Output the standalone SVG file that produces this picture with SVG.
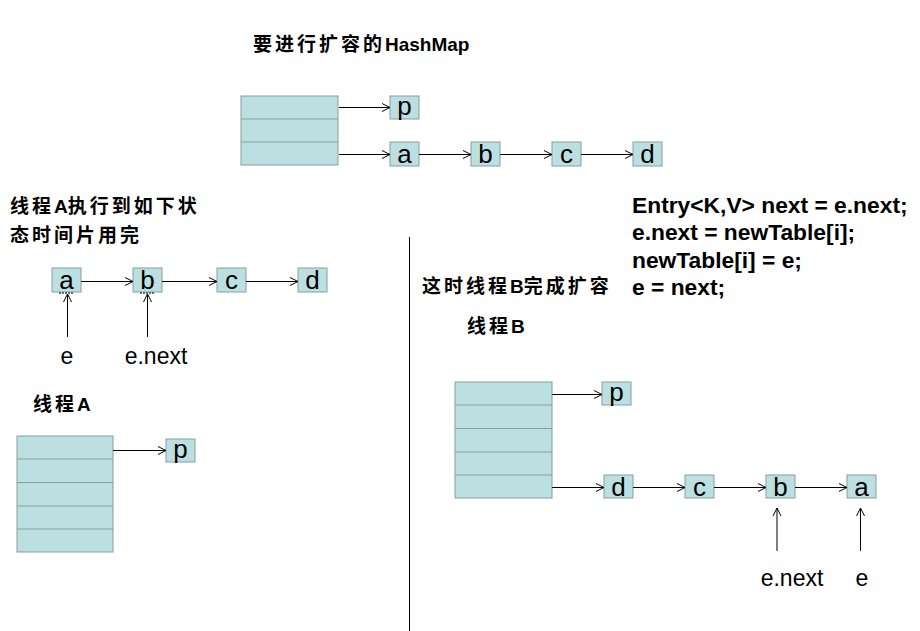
<svg xmlns="http://www.w3.org/2000/svg" width="920" height="631" viewBox="0 0 920 631">
<defs>
<marker id="arr" markerUnits="userSpaceOnUse" markerWidth="12" markerHeight="12" refX="9" refY="5" orient="auto">
<path d="M1,1 L9,5 L1,9" fill="none" stroke="#000" stroke-width="1"/>
</marker>
<style>
.box{fill:#BCE0E2;stroke:#839F9F;stroke-width:1}
.row{stroke:#839F9F;stroke-width:1}
.nt{font-family:"Liberation Sans",Arial,sans-serif;font-size:26px;fill:#000;text-anchor:middle}
.lbl{font-family:"Liberation Sans",Arial,sans-serif;font-size:23px;fill:#000;text-anchor:middle}
.cn{font-family:"Noto Sans CJK SC",sans-serif;font-size:19px;font-weight:600;letter-spacing:3px;fill:#000}
.cn .lat{font-family:"Liberation Sans",Arial,sans-serif;font-weight:bold;letter-spacing:0}
.code{font-family:"Liberation Sans",Arial,sans-serif;font-size:22.8px;font-weight:bold;fill:#000}
.dash{stroke:#444;stroke-width:1.5;stroke-dasharray:2,1}
.con line{stroke:#000;stroke-width:1;marker-end:url(#arr)}
</style>
</defs>
<rect width="920" height="631" fill="#fff"/>

<!-- titles -->
<text class="cn" x="253" y="51">要进行扩容的<tspan class="lat">HashMap</tspan></text>
<text class="cn" x="10" y="213">线程<tspan class="lat">A</tspan>执行到如下状</text>
<text class="cn" x="10" y="242">态时间片用完</text>
<text class="cn" x="33" y="411">线程<tspan class="lat">A</tspan></text>
<text class="cn" x="422" y="293">这时线程<tspan class="lat">B</tspan>完成扩容</text>
<text class="cn" x="467" y="333">线程<tspan class="lat">B</tspan></text>

<g id="code">
<text class="code" x="632" y="213">Entry&lt;K,V&gt; next = e.next;</text>
<text class="code" x="632" y="240">e.next = newTable[i];</text>
<text class="code" x="632" y="268">newTable[i] = e;</text>
<text class="code" x="632" y="295">e = next;</text>
</g>

<line id="divider" x1="409.5" y1="237" x2="409.5" y2="631" stroke="#000" stroke-width="1"/>

<!-- top hashmap -->
<g id="table-top">
<rect class="box" x="241" y="96" width="97" height="69"/>
<line class="row" x1="241" y1="119" x2="338" y2="119"/>
<line class="row" x1="241" y1="142" x2="338" y2="142"/>
</g>
<g id="top-p"><rect class="box" x="390" y="96" width="29" height="23"/><text class="nt" x="404.5" y="115">p</text></g>
<g id="top-a"><rect class="box" x="390" y="142" width="29" height="24"/><text class="nt" x="404.5" y="162.5">a</text></g>
<g id="top-b"><rect class="box" x="471" y="142" width="29" height="24"/><text class="nt" x="485.5" y="162.5">b</text></g>
<g id="top-c"><rect class="box" x="552" y="142" width="29" height="24"/><text class="nt" x="566.5" y="162.5">c</text></g>
<g id="top-d"><rect class="box" x="633" y="142" width="29" height="24"/><text class="nt" x="647.5" y="162.5">d</text></g>

<!-- thread A chain -->
<g id="ta-a"><rect class="box" x="52" y="268" width="29" height="24"/><text class="nt" x="66.5" y="288.5">a</text><line class="dash" x1="59" y1="293" x2="73" y2="293"/></g>
<g id="ta-b"><rect class="box" x="133" y="268" width="29" height="24"/><text class="nt" x="147.5" y="288.5">b</text><line class="dash" x1="140" y1="293" x2="154" y2="293"/></g>
<g id="ta-c"><rect class="box" x="217" y="268" width="29" height="24"/><text class="nt" x="231.5" y="288.5">c</text></g>
<g id="ta-d"><rect class="box" x="298" y="268" width="29" height="24"/><text class="nt" x="312.5" y="288.5">d</text></g>
<g id="ta-e"><text class="lbl" x="67" y="364">e</text></g>
<g id="ta-enext"><text class="lbl" x="156" y="364">e.next</text></g>

<!-- thread A table -->
<g id="table-a">
<rect class="box" x="17" y="436" width="96" height="116"/>
<line class="row" x1="17" y1="459" x2="113" y2="459"/>
<line class="row" x1="17" y1="482.5" x2="113" y2="482.5"/>
<line class="row" x1="17" y1="506" x2="113" y2="506"/>
<line class="row" x1="17" y1="529" x2="113" y2="529"/>
</g>
<g id="a-p"><rect class="box" x="166" y="439" width="29" height="23"/><text class="nt" x="180.5" y="458">p</text></g>

<!-- thread B table -->
<g id="table-b">
<rect class="box" x="455" y="382" width="97" height="116"/>
<line class="row" x1="455" y1="405" x2="552" y2="405"/>
<line class="row" x1="455" y1="428.5" x2="552" y2="428.5"/>
<line class="row" x1="455" y1="452" x2="552" y2="452"/>
<line class="row" x1="455" y1="475" x2="552" y2="475"/>
</g>
<g id="b-p"><rect class="box" x="602" y="382" width="29" height="23"/><text class="nt" x="616.5" y="401">p</text></g>
<g id="b-d"><rect class="box" x="604" y="475" width="29" height="23"/><text class="nt" x="618.5" y="495.5">d</text></g>
<g id="b-c"><rect class="box" x="685" y="475" width="29" height="23"/><text class="nt" x="699.5" y="495.5">c</text></g>
<g id="b-b"><rect class="box" x="766" y="475" width="29" height="23"/><text class="nt" x="780.5" y="495.5">b</text></g>
<g id="b-a"><rect class="box" x="847" y="475" width="29" height="23"/><text class="nt" x="861.5" y="495.5">a</text></g>
<g id="b-enext"><text class="lbl" x="792" y="586">e.next</text></g>
<g id="b-e"><text class="lbl" x="862" y="586">e</text></g>

<g class="con" id="connectors">
<line x1="339" y1="107.5" x2="390" y2="107.5"/>
<line x1="339" y1="154.5" x2="390" y2="154.5"/>
<line x1="419" y1="154.5" x2="471" y2="154.5"/>
<line x1="500" y1="154.5" x2="552" y2="154.5"/>
<line x1="581" y1="154.5" x2="633" y2="154.5"/>

<line x1="81" y1="281.5" x2="133" y2="281.5"/>
<line x1="162" y1="281.5" x2="217" y2="281.5"/>
<line x1="246" y1="281.5" x2="298" y2="281.5"/>
<line x1="67.5" y1="337" x2="67.5" y2="294"/>
<line x1="147.5" y1="337" x2="147.5" y2="294"/>

<line x1="113" y1="450.5" x2="166" y2="450.5"/>

<line x1="552" y1="394.5" x2="602" y2="394.5"/>
<line x1="552" y1="487.5" x2="604" y2="487.5"/>
<line x1="633" y1="487.5" x2="685" y2="487.5"/>
<line x1="714" y1="487.5" x2="766" y2="487.5"/>
<line x1="795" y1="487.5" x2="847" y2="487.5"/>
<line x1="777" y1="551" x2="777" y2="508"/>
<line x1="860.5" y1="551" x2="860.5" y2="508"/>
</g>
</svg>
